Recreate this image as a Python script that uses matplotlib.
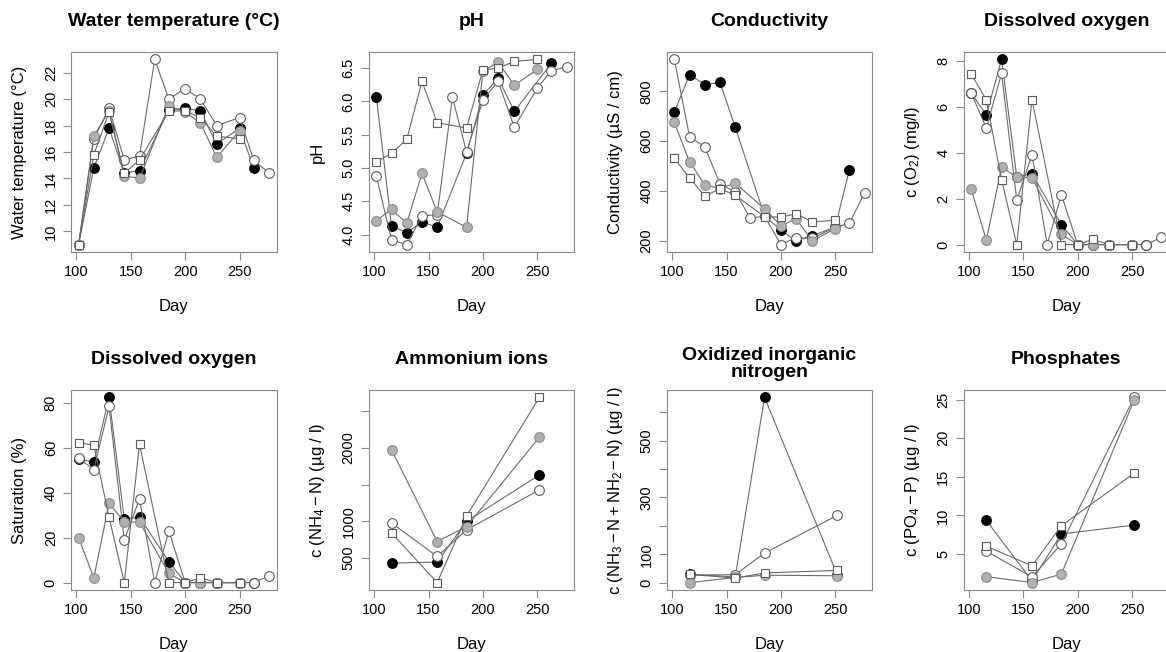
import matplotlib
matplotlib.use('Agg')
import matplotlib.pyplot as plt

plt.rcParams['font.family'] = ['Liberation Sans', 'DejaVu Sans']
plt.rcParams['mathtext.fontset'] = 'custom'
plt.rcParams['mathtext.rm'] = 'Liberation Sans'
plt.rcParams['mathtext.it'] = 'Liberation Sans:italic'
plt.rcParams['mathtext.bf'] = 'Liberation Sans:bold'

# sampling days
days = [102, 116, 130, 144, 158, 172, 185, 200, 214, 229, 250, 263, 277]
nutrient_days = [116, 158, 185, 252]

# water temperature (deg C)
temp_black = [9.0, 14.8, 17.8, 14.4, 14.6, None, 19.2, 19.3, 19.1, 16.6, 17.8, 14.8, None]
temp_white = [9.0, 17.0, 19.3, 15.4, 15.7, 23.0, 20.0, 20.8, 20.0, 18.0, 18.6, 15.4, 14.4]
temp_grey = [9.0, 17.2, 19.1, 14.2, 14.0, None, 19.5, 19.0, 18.2, 15.6, 17.6, None, None]
temp_square = [9.0, 15.8, 19.0, 14.4, 15.4, None, 19.1, 19.1, 18.6, 17.2, 17.0, None, None]

# pH
ph_black = [6.07, 4.13, 4.03, 4.19, 4.11, None, 5.22, 6.09, 6.35, 5.85, None, 6.57, None]
ph_white = [4.88, 3.92, 3.85, 4.28, 4.30, 6.06, 5.24, 6.02, 6.30, 5.61, 6.20, 6.46, 6.52]
ph_grey = [4.21, 4.38, 4.17, 4.92, 4.34, None, 4.11, 6.45, 6.59, 6.24, 6.48, None, None]
ph_square = [5.09, 5.22, 5.43, 6.30, 5.68, None, 5.60, 6.47, 6.50, 6.60, 6.63, None, None]

# conductivity (uS/cm)
cond_black = [716, 867, 827, 836, 656, None, 300, 243, 200, 221, 255, 485, None]
cond_white = [928, 618, 577, 429, 395, 290, 300, 185, 213, 210, 255, 270, 393]
cond_grey = [675, 517, 425, 410, 432, None, 328, 261, 288, 200, 249, None, None]
cond_square = [531, 452, 380, 409, 383, None, 297, 295, 309, 276, 283, None, None]

# dissolved oxygen (mg/l)
do_black = [6.60, 5.66, 8.08, 2.95, 3.09, None, 0.87, 0.0, 0.0, 0.0, 0.0, 0.0, None]
do_white = [6.62, 5.09, 7.47, 1.94, 3.92, 0.0, 2.18, 0.0, 0.0, 0.0, 0.0, 0.0, 0.32]
do_grey = [2.44, 0.19, 3.38, 2.95, 2.92, None, 0.45, 0.0, 0.0, 0.0, 0.0, None, None]
do_square = [7.45, 6.31, 2.84, 0.0, 6.33, None, 0.0, 0.0, 0.23, 0.0, 0.0, None, None]

# oxygen saturation (%)
sat_black = [55.0, 53.6, 82.4, 28.3, 29.1, None, 9.3, 0, 0, 0, 0, 0, None]
sat_white = [55.3, 50.3, 78.4, 19.0, 37.2, 0, 23.0, 0, 0, 0, 0, 0, 2.95]
sat_grey = [19.9, 2.1, 35.3, 27.0, 26.9, None, 4.1, 0, 0, 0, 0, None, None]
sat_square = [62.3, 61.1, 29.1, 0, 61.5, None, 0, 0, 2.1, 0, 0, None, None]

# ammonium (ug/l)
nh4_black = [432, 446, 1000, 1631]
nh4_white = [977, 523, 883, 1428]
nh4_grey = [1973, 725, 928, 2144]
nh4_square = [842, 167, 1072, 2685]

# oxidized inorganic nitrogen (ug/l)
nox_black = [29, 20, 652, 26]
nox_white = [26, 28, 104, 237]
nox_grey = [0, 18, 26, 24]
nox_square = [29, 16, 34, 43]

# phosphates (ug/l)
po4_black = [9.33, 1.5, 7.58, 8.73]
po4_white = [5.34, 2.0, 6.29, 25.3]
po4_grey = [2.04, 1.27, 2.38, 24.96]
po4_square = [5.99, 3.45, 8.65, 15.47]

titles = ['Water temperature (°C)', 'pH', 'Conductivity', 'Dissolved oxygen',
          'Dissolved oxygen', 'Ammonium ions', 'Oxidized inorganic\nnitrogen', 'Phosphates']
ylabels = ['Water temperature (°C)', 'pH', 'Conductivity (µS / cm)',
           r'c $(\mathrm{O_2})$ (mg/l)', 'Saturation (%)',
           r'c $(\mathrm{NH_4 - N})$ (µg / l)',
           r'c $(\mathrm{NH_3 - N + NH_2 - N})$ (µg / l)',
           r'c $(\mathrm{PO_4 - P})$ (µg / l)']
xvals = [days, days, days, days, days, nutrient_days, nutrient_days, nutrient_days]
series = [
    [temp_black, temp_white, temp_grey, temp_square],
    [ph_black, ph_white, ph_grey, ph_square],
    [cond_black, cond_white, cond_grey, cond_square],
    [do_black, do_white, do_grey, do_square],
    [sat_black, sat_white, sat_grey, sat_square],
    [nh4_black, nh4_white, nh4_grey, nh4_square],
    [nox_black, nox_white, nox_grey, nox_square],
    [po4_black, po4_white, po4_grey, po4_square],
]
yticks = [
    [10, 12, 14, 16, 18, 20, 22],
    [4.0, 4.5, 5.0, 5.5, 6.0, 6.5],
    [200, 400, 600, 800],
    [0, 2, 4, 6, 8],
    [0, 20, 40, 60, 80],
    [500, 1000, 1500, 2000, 2500],
    [0, 100, 200, 300, 400, 500, 600],
    [5, 10, 15, 20, 25],
]
yticklabels = [
    ['10', '12', '14', '16', '18', '20', '22'],
    ['4.0', '4.5', '5.0', '5.5', '6.0', '6.5'],
    ['200', '400', '600', '800'],
    ['0', '2', '4', '6', '8'],
    ['0', '20', '40', '60', '80'],
    ['500', '1000', '', '2000', ''],
    ['0', '100', '', '300', '', '500', ''],
    ['5', '10', '15', '20', '25'],
]
xticks = [100, 150, 200, 250]

# marker styles: black, white, grey, square (drawn in this order)
styles = [
    dict(marker='o', mfc='black', mec='black', ms=7.0),
    dict(marker='o', mfc='white', mec='#5a5a5a', ms=7.0),
    dict(marker='o', mfc='#b0b0b0', mec='#8c8c8c', ms=7.0),
    dict(marker='s', mfc='white', mec='#5a5a5a', ms=6.4),
]
line_col = '#6a6a6a'
box_col = '#8a8a8a'

W, H = 1166, 652
fig = plt.figure(figsize=(W / 100, H / 100), dpi=100)

lefts = [71, 368.7, 666.7, 963.5]
tops = [52, 390]
aw, ah = 205.5, 200

span = max(days) - min(days)
xlim = (min(days) - 0.04 * span, max(days) + 0.04 * span)

for i in range(8):
    r, c = divmod(i, 4)
    ax = fig.add_axes([lefts[c] / W, (H - tops[r] - ah) / H, aw / W, ah / H])
    allv = []
    for vals, st in zip(series[i], styles):
        xs = [d for d, v in zip(xvals[i], vals) if v is not None]
        ys = [v for v in vals if v is not None]
        allv += ys
        ax.plot(xs, ys, color=line_col, lw=0.8, mew=0.8, **st)
    lo, hi = min(allv), max(allv)
    ax.set_xlim(xlim)
    ax.set_ylim(lo - 0.04 * (hi - lo), hi + 0.04 * (hi - lo))
    ax.set_xticks(xticks)
    ax.set_xticklabels([str(t) for t in xticks])
    ax.set_yticks(yticks[i])
    ax.set_yticklabels(yticklabels[i])
    ax.tick_params(direction='out', length=5.5, width=0.8, color=box_col,
                   labelsize=10.5, pad=4)
    ax.tick_params(axis='y', labelrotation=90)
    for lab in ax.get_yticklabels():
        lab.set_va('center')
    for sp in ax.spines.values():
        sp.set_color(box_col)
        sp.set_linewidth(0.8)

    ax.set_xlabel('Day', fontsize=12)
    ax.xaxis.set_label_coords(0.5, -54 / ah)
    ax.xaxis.label.set_va('center')
    ax.set_ylabel(ylabels[i], fontsize=12)
    ax.yaxis.set_label_coords(-51.5 / aw, 0.5)
    ax.yaxis.label.set_va('center')

    ty = 1 + 30 / ah if '\n' not in titles[i] else 1 + 26 / ah
    ax.text(0.5, ty, titles[i], transform=ax.transAxes, ha='center', va='center',
            fontsize=14, fontweight='bold', linespacing=0.95)

fig.savefig('out.png', dpi=100)
